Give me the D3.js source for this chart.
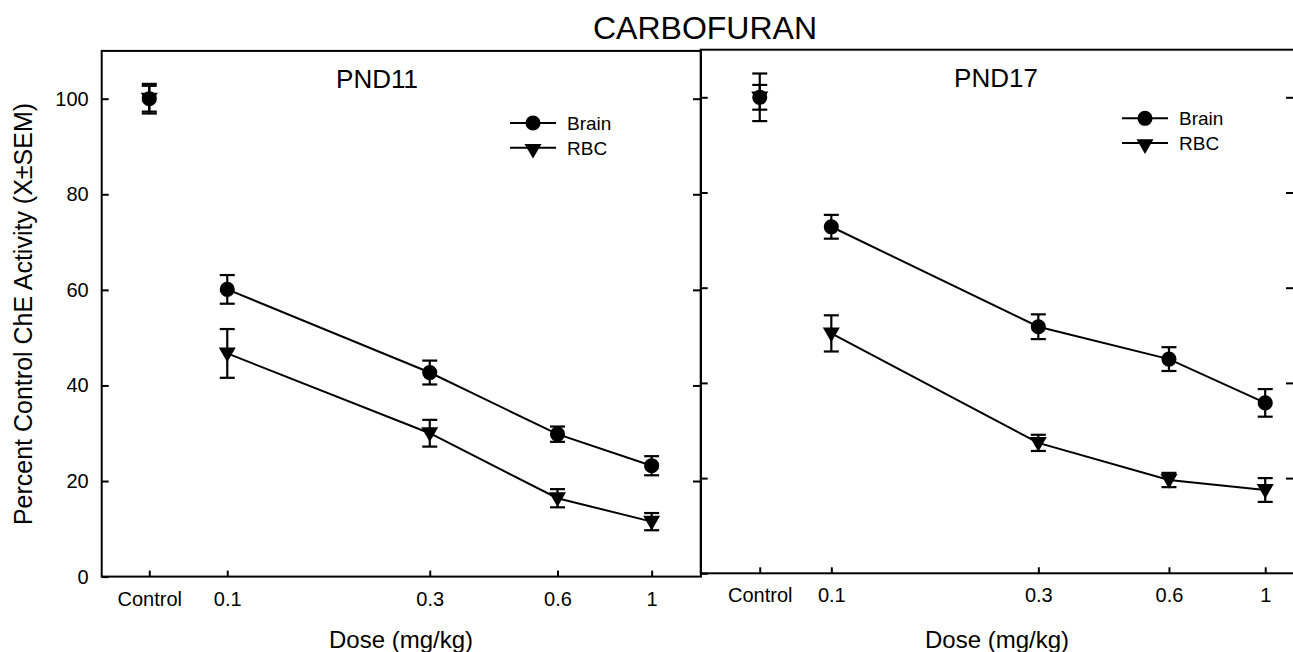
<!DOCTYPE html>
<html>
<head>
<meta charset="utf-8">
<script src="https://cdn.jsdelivr.net/npm/d3@7"></script>
<style>
	body { margin: 0; background: #fff; }
	svg { display: block; font-family: "Liberation Sans", Arial, sans-serif; }
	.axis text { font-size: 20px; fill: #000; }
	.axis line { stroke: #000; stroke-width: 2px; }
	.axis path { display: none; }
</style>
</head>
<body>
<div id="graphic"></div>
<script>
// data
const doses = [0.1, 0.3, 0.6, 1];
const xTickLabels = ['Control', '0.1', '0.3', '0.6', '1'];
const yTicks = [0, 20, 40, 60, 80, 100];

const pnd11Brain = [60.1, 42.7, 29.8, 23.2];
const pnd11BrainSem = [3.0, 2.5, 1.6, 2.0];
const pnd11Rbc = [46.7, 30.0, 16.4, 11.5];
const pnd11RbcSem = [5.1, 2.8, 1.9, 1.8];
const pnd11Control = [100, 100];
const pnd11ControlSem = [3.1, 2.7];

const pnd17Brain = [72.8, 51.8, 45.0, 35.8];
const pnd17BrainSem = [2.5, 2.6, 2.5, 2.9];
const pnd17Rbc = [50.4, 27.4, 19.6, 17.5];
const pnd17RbcSem = [3.8, 1.7, 1.5, 2.5];
const pnd17Control = [100, 100];
const pnd17ControlSem = [2.6, 5.0];

const legendLabels = ['Brain', 'RBC'];

const width = 1293, height = 652;

// layout of the two panels
const panels = [
	{ title: 'PND11', brain: pnd11Brain, brainSem: pnd11BrainSem, rbc: pnd11Rbc, rbcSem: pnd11RbcSem,
		control: pnd11Control, controlSem: pnd11ControlSem,
		left: 101.7, right: 701, bottom: 576.6, y100: 98.7, domain: [0.0506, 1.307], controlDose: 0.0655,
		titleX: 377, titleY: 88, legendX: 510, legendY: 123, leftLabels: true },
	{ title: 'PND17', brain: pnd17Brain, brainSem: pnd17BrainSem, rbc: pnd17Rbc, rbcSem: pnd17RbcSem,
		control: pnd17Control, controlSem: pnd17ControlSem,
		left: 700.7, right: 1294, bottom: 573.3, y100: 97.3, domain: [0.05, 1.165], controlDose: 0.0684,
		titleX: 996, titleY: 87, legendX: 1122, legendY: 118.3, leftLabels: false }
];

const svg = d3.select('#graphic').append('svg')
	.attr('width', width)
	.attr('height', height);

// main title
svg.append('text')
	.attr('x', 705)
	.attr('y', 39)
	.attr('text-anchor', 'middle')
	.style('font-size', '32px')
	.text('CARBOFURAN');

// y-axis label
svg.append('text')
	.attr('transform', 'translate(32,314) rotate(-90)')
	.attr('text-anchor', 'middle')
	.style('font-size', '25px')
	.text('Percent Control ChE Activity (X\u00B1SEM)');

const triangle = d3.symbol().type(d3.symbolTriangle).size(125);
const circle = d3.symbol().type(d3.symbolCircle).size(180);

panels.forEach(function (p) {
	const x = d3.scaleLog().domain(p.domain).range([p.left, p.right]);
	const k = (p.bottom - p.y100) / 100;
	const y = d3.scaleLinear().domain([0, 110]).range([p.bottom, p.bottom - 110 * k]);
	const top = y(110);

	const g = svg.append('g');

	// frame
	g.append('rect')
		.attr('x', p.left)
		.attr('y', top)
		.attr('width', p.right - p.left)
		.attr('height', p.bottom - top)
		.attr('fill', 'none')
		.attr('stroke', '#000')
		.attr('stroke-width', 2);

	// x axis
	const xVals = [p.controlDose].concat(doses);
	g.append('g')
		.attr('class', 'x axis')
		.attr('transform', 'translate(0,' + p.bottom + ')')
		.call(d3.axisBottom(x)
			.tickValues(xVals)
			.tickFormat((d, i) => xTickLabels[i])
			.tickSizeInner(-6)
			.tickSizeOuter(0)
			.tickPadding(15));

	// left axis
	g.append('g')
		.attr('class', 'y axis')
		.attr('transform', 'translate(' + p.left + ',0)')
		.call(d3.axisLeft(y)
			.tickValues(yTicks)
			.tickFormat(p.leftLabels ? d3.format('d') : '')
			.tickSizeInner(-7)
			.tickSizeOuter(0)
			.tickPadding(13));

	// right axis (ticks inward only)
	g.append('g')
		.attr('class', 'y axis')
		.attr('transform', 'translate(' + p.right + ',0)')
		.call(d3.axisRight(y)
			.tickValues(yTicks.filter(d => d > 0))
			.tickFormat('')
			.tickSizeInner(-8)
			.tickSizeOuter(0));

	// panel title
	g.append('text')
		.attr('x', p.titleX)
		.attr('y', p.titleY)
		.attr('text-anchor', 'middle')
		.style('font-size', '26px')
		.text(p.title);

	const series = [
		{ vals: p.rbc, sem: p.rbcSem, sym: triangle, rot: 180, ctrl: 1 },
		{ vals: p.brain, sem: p.brainSem, sym: circle, rot: 0, ctrl: 0 }
	];

	const line = d3.line()
		.x((d, i) => x(doses[i]))
		.y(d => y(d));

	series.forEach(function (s) {
		g.append('path')
			.attr('d', line(s.vals))
			.attr('fill', 'none')
			.attr('stroke', '#000')
			.attr('stroke-width', 2);

		const pts = [{ dose: p.controlDose, v: p.control[s.ctrl], e: p.controlSem[s.ctrl] }]
			.concat(s.vals.map((v, i) => ({ dose: doses[i], v: v, e: s.sem[i] })));

		const eb = g.append('g')
			.attr('stroke', '#000')
			.attr('stroke-width', 2.2)
			.selectAll('g')
			.data(pts)
			.join('g');

		eb.append('line')
			.attr('x1', d => x(d.dose)).attr('x2', d => x(d.dose))
			.attr('y1', d => y(d.v + d.e)).attr('y2', d => y(d.v - d.e));
		eb.append('line')
			.attr('x1', d => x(d.dose) - 7.5).attr('x2', d => x(d.dose) + 7.5)
			.attr('y1', d => y(d.v + d.e)).attr('y2', d => y(d.v + d.e));
		eb.append('line')
			.attr('x1', d => x(d.dose) - 7.5).attr('x2', d => x(d.dose) + 7.5)
			.attr('y1', d => y(d.v - d.e)).attr('y2', d => y(d.v - d.e));

		g.append('g')
			.selectAll('path')
			.data(pts)
			.join('path')
			.attr('d', s.sym)
			.attr('transform', d => 'translate(' + x(d.dose) + ',' + (y(d.v) + (s.rot ? -1 : 0)) + ') rotate(' + s.rot + ')')
			.attr('fill', '#000');
	});

	// legend
	const leg = g.append('g')
		.selectAll('g')
		.data(legendLabels)
		.join('g')
		.attr('transform', (d, i) => 'translate(' + p.legendX + ',' + (p.legendY + i * 24.8) + ')');

	leg.append('line')
		.attr('x1', 0).attr('x2', 46)
		.attr('stroke', '#000')
		.attr('stroke-width', 2);
	leg.append('path')
		.attr('d', (d, i) => i === 0 ? circle() : triangle())
		.attr('transform', (d, i) => 'translate(23,' + (i === 0 ? 0 : 1) + ') rotate(' + (i === 0 ? 0 : 180) + ')')
		.attr('fill', '#000');
	leg.append('text')
		.attr('x', 57)
		.attr('dy', '0.36em')
		.style('font-size', '19px')
		.text(d => d);
});

// x-axis titles
svg.selectAll('text.xtitle')
	.data([401, 997])
	.join('text')
	.attr('class', 'xtitle')
	.attr('x', d => d)
	.attr('y', 648)
	.attr('text-anchor', 'middle')
	.style('font-size', '24px')
	.text('Dose (mg/kg)');
</script>
</body>
</html>
